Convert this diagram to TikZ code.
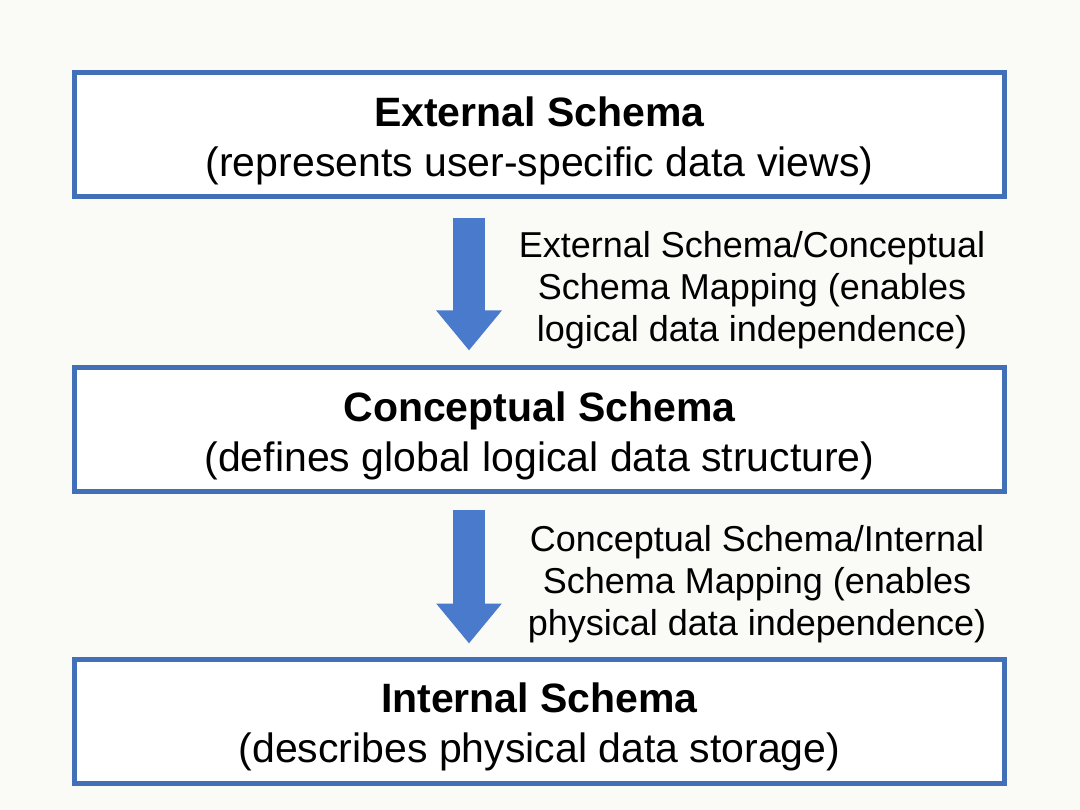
\documentclass[tikz,border=0pt]{standalone}
\usepackage{fontspec}
\setmainfont{Liberation Sans}
\usetikzlibrary{arrows.meta}
\definecolor{boxblue}{HTML}{4270B8}
\definecolor{arrowblue}{HTML}{4A7ACC}
\definecolor{paper}{HTML}{FAFAF7}
\begin{document}
\begin{tikzpicture}[x=1pt, y=-1pt,
                    schemabox/.style={draw=boxblue, line width=5pt, fill=white,
                      minimum width=930pt, minimum height=124pt, align=center,
                      font=\fontsize{41}{50}\selectfont},
                    maparrow/.style={draw=arrowblue, line width=32pt,
                      -{Triangle[width=63pt,length=40pt]}},
                    maplabel/.style={align=center, font=\fontsize{36}{42}\selectfont}]
  \fill[paper] (0,0) rectangle (1080,810);
  \useasboundingbox (0,0) rectangle (1080,810);
  % the three levels
  \node[schemabox] (ext) at (539.5,134.5) {\rule{0pt}{42pt}\textbf{External Schema}\\(represents user-specific data views)};
  \node[schemabox] (conc) at (539.5,429.5) {\rule{0pt}{42pt}\textbf{Conceptual Schema}\\(defines global logical data structure)};
  \node[schemabox] (int) at (539.5,721) {\rule{0pt}{42pt}\textbf{Internal Schema}\\(describes physical data storage)};
  % mappings
  \draw[maparrow, shorten <=19.5pt, shorten >=14.5pt] ([xshift=-70.5pt]ext.south) -- ([xshift=-70.5pt]conc.north);
  \draw[maparrow, shorten <=15.5pt, shorten >=13pt] ([xshift=-70.5pt]conc.south) -- ([xshift=-70.5pt]int.north);
  \node[maplabel] (extmap) at (752,290) {External Schema/Conceptual\\Schema Mapping (enables\\logical data independence)};
  \node[maplabel] (intmap) at (757,584.5) {Conceptual Schema/Internal\\Schema Mapping (enables\\physical data independence)};
\end{tikzpicture}
\end{document}
